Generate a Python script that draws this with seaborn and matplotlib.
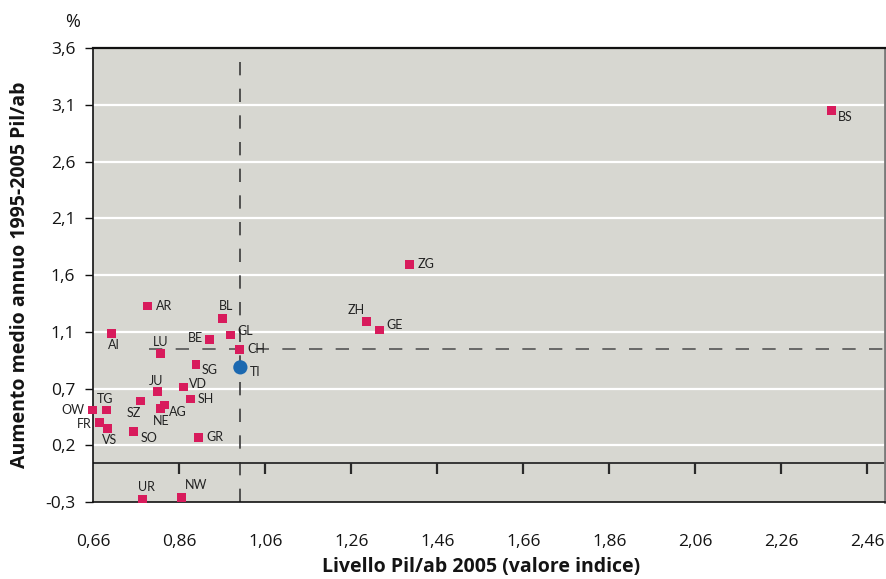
import numpy as np
import pandas as pd
import matplotlib
matplotlib.use("Agg")
import matplotlib.pyplot as plt
import seaborn as sns

# ---- data ----
cantons = ["BS", "ZG", "ZH", "GE", "AR", "AI", "BL", "GL", "BE", "CH", "LU", "SG",
           "TI", "JU", "VD", "SH", "TG", "OW", "SZ", "NE", "AG", "FR", "VS", "SO",
           "GR", "UR", "NW"]
gdp_index = [2.376, 1.395, 1.295, 1.325, 0.786, 0.702, 0.960, 0.979, 0.931, 1.000,
             0.816, 0.899, 1.002, 0.809, 0.869, 0.886, 0.690, 0.658, 0.769, 0.817,
             0.825, 0.674, 0.693, 0.753, 0.904, 0.774, 0.865]
growth = [3.091, 1.740, 1.240, 1.164, 1.375, 1.135, 1.267, 1.120, 1.082, 0.995,
          0.960, 0.863, 0.837, 0.626, 0.664, 0.559, 0.462, 0.462, 0.541, 0.477,
          0.506, 0.354, 0.304, 0.272, 0.219, -0.318, -0.304]
highlight = "TI"
reference = "CH"
x_ticks = [0.66, 0.86, 1.06, 1.26, 1.46, 1.66, 1.86, 2.06, 2.26, 2.46]
x_tick_labels = ["0,66", "0,86", "1,06", "1,26", "1,46", "1,66", "1,86", "2,06", "2,26", "2,46"]
y_tick_labels = ["-0,3", "0,2", "0,7", "1,1", "1,6", "2,1", "2,6", "3,1", "3,6"]
x_label = "Livello Pil/ab 2005 (valore indice)"
y_label = "Aumento medio annuo 1995-2005 Pil/ab"
unit = "%"

df = pd.DataFrame({"canton": cantons, "x": gdp_index, "y": growth})

# ---- label placement (pixel offsets from marker, +y up) ----
offsets = {
    "BS": (7, -7, "left"), "ZG": (8, 0, "left"), "ZH": (-2, 11, "right"),
    "GE": (7, 5, "left"), "AR": (8, 0, "left"), "AI": (3, -12, "center"),
    "BL": (4, 12, "center"), "GL": (7, 4.5, "left"), "BE": (-7, 1, "right"),
    "CH": (8, 0, "left"), "LU": (0, 11, "center"), "SG": (6, -6, "left"),
    "TI": (10, -5, "left"), "JU": (-1, 10, "center"), "VD": (6, 3, "left"),
    "SH": (7, 0, "left"), "TG": (-1, 11.5, "center"), "OW": (-8, 0, "right"),
    "SZ": (-6, -11.5, "center"), "NE": (0, -13, "center"), "AG": (5, -6.5, "left"),
    "FR": (-8, -2, "right"), "VS": (2, -11.5, "center"), "SO": (7, -6, "left"),
    "GR": (8, 1, "left"), "UR": (4, 12, "center"), "NW": (3, 12, "left"),
}

sns.set_theme(style="white")
plt.rcParams["font.family"] = ["Lato", "DejaVu Sans"]

W, H, DPI = 887, 579, 100
fig = plt.figure(figsize=(W / DPI, H / DPI), dpi=DPI)
ax = fig.add_axes([93.3 / W, 1 - 502 / H, (885 - 93.3) / W, (502 - 48.3) / H])

bg = "#d7d7d1"
pink = "#d81b5c"
blue = "#1b68b0"
txt = "#141414"
ax.set_facecolor(bg)

ymin, ymax = -0.344, 3.635
xmin, xmax = 0.66, 2.501
ax.set_xlim(xmin, xmax)
ax.set_ylim(ymin, ymax)

y_ticks = np.linspace(ymin, ymax, len(y_tick_labels))
ax.set_yticks(y_ticks)
ax.set_yticklabels(y_tick_labels)
ax.set_xticks(x_ticks)
ax.set_xticklabels(x_tick_labels)

ax.grid(False)
for yt in y_ticks[1:-1]:
    ax.axhline(yt, color="white", lw=1.6, zorder=1)

# reference lines through CH
ref = df[df.canton == reference].iloc[0]
ax.axvline(ref.x, color="#3a3a3a", lw=1.2, dashes=(8, 8), zorder=2)
ax.hlines(ref.y, 0.79, xmax, color="#555555", lw=1.2, linestyles=(0, (8, 8)), zorder=2)

# zero line with downward ticks
ax.axhline(0, color="#2a2a2a", lw=1.3, zorder=2)
frac = (0 - ymin) / (ymax - ymin)
sec = ax.secondary_xaxis(frac)
sec.set_xticks(x_ticks[1:])
sec.set_xticklabels([])
sec.tick_params(axis="x", direction="out", length=8, width=1.6, colors="#2a2a2a")
for s in sec.spines.values():
    s.set_visible(False)

others = df[df.canton != highlight]
hl = df[df.canton == highlight]
sns.scatterplot(data=others, x="x", y="y", marker="s", s=40, color=pink,
                edgecolor="none", ax=ax, legend=False, zorder=4, clip_on=False)
sns.scatterplot(data=hl, x="x", y="y", marker="o", s=105, color=blue,
                edgecolor="none", ax=ax, legend=False, zorder=5)

for _, r in df.iterrows():
    dx, dy, ha = offsets[r.canton]
    ax.annotate(r.canton, (r.x, r.y), xytext=(dx * 0.72, dy * 0.72),
                textcoords="offset points", ha=ha, va="center",
                fontsize=9, color="#222222", zorder=6, annotation_clip=False)

# spines
for side in ["left", "bottom", "top"]:
    ax.spines[side].set_color("#111111")
    ax.spines[side].set_linewidth(1.2)
ax.spines["top"].set_linewidth(1.6)
ax.spines["right"].set_color("#7a7a7a")
ax.spines["right"].set_linewidth(2)

tick_font = ["Open Sans", "DejaVu Sans"]
ax.tick_params(axis="y", direction="out", length=6, width=1, color="#111111",
               labelsize=12.5, pad=7, left=True, labelcolor=txt)
ax.tick_params(axis="x", length=0, labelsize=12.5, pad=23, labelcolor=txt)
for lab in ax.get_xticklabels() + ax.get_yticklabels():
    lab.set_family(tick_font)

ax.set_xlabel(x_label, fontsize=14, fontweight="bold", color=txt, family=tick_font)
ax.set_ylabel(y_label, fontsize=14, fontweight="bold", color=txt, family=tick_font)
ax.xaxis.label.set_va("center")
ax.yaxis.label.set_va("center")
ax.xaxis.set_label_coords((481 - 93.3) / 791.7, (502 - 567) / 453.7)
ax.yaxis.set_label_coords((20 - 93.3) / 791.7, 0.5)

fig.text(73 / W, 1 - 22 / H, unit, ha="center", va="center", fontsize=13,
         color=txt, family=tick_font)

fig.savefig("out.png", dpi=DPI, facecolor="white")
